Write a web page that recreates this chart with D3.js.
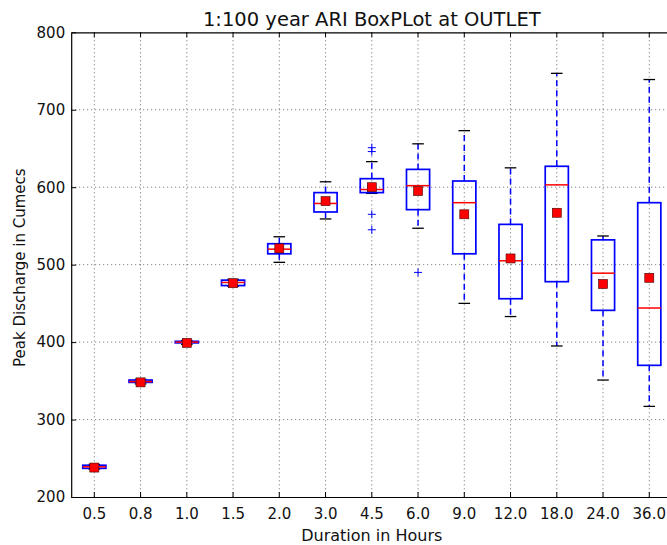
<!DOCTYPE html>
<html><head><meta charset="utf-8">
<script src="https://cdn.jsdelivr.net/npm/d3@7"></script>
<style>body{margin:0;background:#fff}svg{display:block}text{font-family:"DejaVu Sans",sans-serif}</style>
</head><body><svg id="c" width="667" height="545"></svg>
<script>
const categories = ["0.5","0.8","1.0","1.5","2.0","3.0","4.5","6.0","9.0","12.0","18.0","24.0","36.0"];
const whiskerLow  = [236, 346, 397, 472, 503, 559, 592, 547, 450, 433, 395, 351, 317];
const q1          = [237, 348, 399, 473, 514, 568, 593, 571, 514, 456, 478, 441, 370];
const medians     = [239, 349, 400, 477, 520, 579, 597, 602, 580, 505, 603, 489, 444];
const q3          = [241, 351, 401, 480, 527, 593, 611, 623, 608, 552, 627, 532, 580];
const whiskerHigh = [242, 352, 402, 481, 536, 607, 633, 656, 673, 625, 747, 537, 739];
const means       = [238, 348, 399, 476, 521, 582, 600, 595, 565, 508, 567, 475, 483];
const outliers    = [[], [], [], [], [], [], [651, 646, 565, 545], [490], [], [], [], [], []];
const yTicks = [200, 300, 400, 500, 600, 700, 800];

const svg = d3.select("#c");
const m = {l: 71.2, t: 32.3, r: 672.4, b: 497};
const x = d3.scaleBand().domain(categories).range([m.l, m.r]).padding(0);
const y = d3.scaleLinear().domain([200, 800]).range([m.b, m.t]);
const bw = x.bandwidth() * 0.5;
const cx = c => x(c) + x.bandwidth() / 2;

// grid
const g = svg.append("g");
g.selectAll(".gy").data(yTicks.slice(1, -1)).join("line")
  .attr("x1", m.l).attr("x2", m.r).attr("y1", d => y(d)).attr("y2", d => y(d))
  .attr("stroke", "#000").attr("stroke-width", 0.6).attr("stroke-dasharray", "1,3");
g.selectAll(".gx").data(categories).join("line")
  .attr("x1", cx).attr("x2", cx).attr("y1", m.t).attr("y2", m.b)
  .attr("stroke", "#000").attr("stroke-width", 0.6).attr("stroke-dasharray", "1,3");

// axes
const xAxis = d3.axisBottom(x).tickSizeInner(-5).tickSizeOuter(0).tickPadding(11);
const gx = svg.append("g").attr("transform", `translate(0,${m.b})`).call(xAxis);
const xAxisTop = d3.axisTop(x).tickSizeInner(-5).tickSizeOuter(0).tickFormat("");
svg.append("g").attr("transform", `translate(0,${m.t})`).call(xAxisTop);
const yAxis = d3.axisLeft(y).tickValues(yTicks).tickSizeInner(-5).tickSizeOuter(0).tickPadding(6);
const gy = svg.append("g").attr("transform", `translate(${m.l},0)`).call(yAxis);
svg.selectAll(".domain").attr("stroke", "#000").attr("stroke-width", 1.2);
svg.selectAll(".tick line").attr("stroke", "#000");
svg.selectAll(".tick text").attr("font-size", 15).attr("fill", "#111").attr("font-family", "DejaVu Sans");

const data = categories.map((c, i) => ({c, lo: whiskerLow[i], q1: q1[i], med: medians[i], q3: q3[i], hi: whiskerHigh[i], mean: means[i], out: outliers[i]}));
const bx = svg.append("g").selectAll("g").data(data).join("g");
// whiskers
bx.append("line").attr("x1", d => cx(d.c)).attr("x2", d => cx(d.c))
  .attr("y1", d => y(d.q3)).attr("y2", d => y(d.hi))
  .attr("stroke", "#0000ff").attr("stroke-width", 1.5).attr("stroke-dasharray", "6,4");
bx.append("line").attr("x1", d => cx(d.c)).attr("x2", d => cx(d.c))
  .attr("y1", d => y(d.q1)).attr("y2", d => y(d.lo))
  .attr("stroke", "#0000ff").attr("stroke-width", 1.5).attr("stroke-dasharray", "6,4");
// caps
["lo", "hi"].forEach(k => {
  bx.append("line").attr("x1", d => cx(d.c) - bw / 4).attr("x2", d => cx(d.c) + bw / 4)
    .attr("y1", d => y(d[k])).attr("y2", d => y(d[k]))
    .attr("stroke", "#000").attr("stroke-width", 1.3);
});
// box
bx.append("rect").attr("x", d => cx(d.c) - bw / 2).attr("width", bw)
  .attr("y", d => y(d.q3)).attr("height", d => Math.max(1, y(d.q1) - y(d.q3)))
  .attr("fill", "none").attr("stroke", "#0000ff").attr("stroke-width", 1.7);
// median
bx.append("line").attr("x1", d => cx(d.c) - bw / 2).attr("x2", d => cx(d.c) + bw / 2)
  .attr("y1", d => y(d.med)).attr("y2", d => y(d.med))
  .attr("stroke", "#ff0000").attr("stroke-width", 1.5);
// mean
bx.append("rect").attr("x", d => cx(d.c) - 4.5).attr("y", d => y(d.mean) - 4.5)
  .attr("width", 9).attr("height", 9).attr("fill", "#ff0000").attr("stroke", "#400").attr("stroke-width", 0.6);
// fliers
bx.each(function(d) {
  const s = d3.select(this);
  d.out.forEach(v => {
    s.append("path").attr("d", `M${cx(d.c)-4},${y(v)}h8M${cx(d.c)},${y(v)-4}v8`)
      .attr("stroke", "#0000ff").attr("stroke-width", 1);
  });
});

// labels
svg.append("text").attr("x", (m.l + m.r) / 2).attr("y", 26).attr("text-anchor", "middle")
  .attr("font-size", 19.5).attr("fill", "#111").text("1:100 year ARI BoxPLot at OUTLET");
svg.append("text").attr("x", (m.l + m.r) / 2).attr("y", 541).attr("text-anchor", "middle")
  .attr("font-size", 16).attr("fill", "#111").text("Duration in Hours");
svg.append("text").attr("transform", `translate(25,${(m.t + m.b) / 2 + 3}) rotate(-90)`).attr("text-anchor", "middle")
  .attr("font-size", 15).attr("fill", "#111").text("Peak Discharge in Cumecs");
</script></body></html>
